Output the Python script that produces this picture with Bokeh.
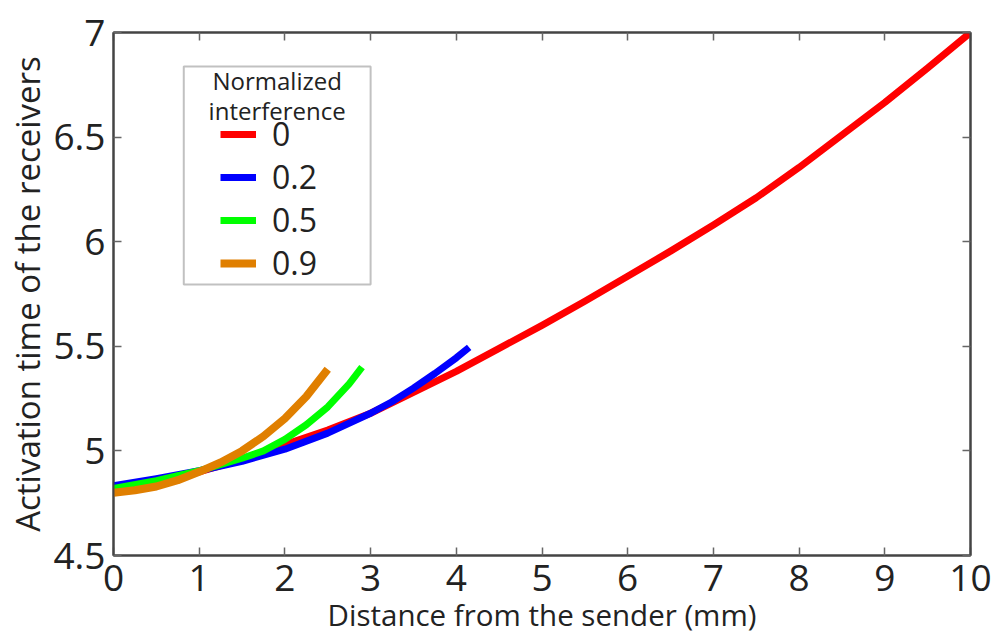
from bokeh.plotting import figure
from bokeh.models import (Range1d, LinearAxis, FixedTicker, Legend, LegendItem,
                          BoxAnnotation, Label, CustomLabelingPolicy)
from bokeh.embed import file_html
from bokeh.resources import INLINE

# ---- data ----
x_red = [0, 0.5, 1, 1.5, 2, 2.5, 3, 3.5, 4, 4.5, 5, 5.5, 6, 6.5, 7, 7.5, 8, 8.5, 9, 9.5, 10]
y_red = [4.81, 4.85, 4.90, 4.96, 5.03, 5.10, 5.18, 5.28, 5.38, 5.49, 5.60, 5.715, 5.835,
         5.955, 6.08, 6.21, 6.355, 6.51, 6.665, 6.83, 7.0]

x_blue = [0, 0.5, 1, 1.5, 2, 2.5, 3, 3.25, 3.5, 3.75, 4, 4.15]
y_blue = [4.833, 4.867, 4.905, 4.95, 5.008, 5.085, 5.18, 5.235, 5.30, 5.37, 5.445, 5.495]

x_green = [0, 0.5, 1, 1.5, 1.75, 2, 2.25, 2.5, 2.75, 2.9]
y_green = [4.82, 4.858, 4.905, 4.965, 5.00, 5.055, 5.125, 5.21, 5.32, 5.40]

x_orange = [0, 0.25, 0.5, 0.75, 1, 1.25, 1.5, 1.75, 2, 2.25, 2.5]
y_orange = [4.80, 4.812, 4.83, 4.86, 4.90, 4.945, 5.00, 5.07, 5.155, 5.26, 5.39]

series_names = ["0", "0.2", "0.5", "0.9"]
series_colors = ["#ff0000", "#0000ff", "#00ff00", "#e07f00"]
legend_title = ["Normalized", "interference"]

x_ticks = [0, 1, 2, 3, 4, 5, 6, 7, 8, 9, 10]
y_ticks = [4.5, 5.0, 5.5, 6.0, 6.5, 7.0]
y_tick_labels = ["4.5", "5", "5.5", "6", "6.5", "7"]
x_title = "Distance from the sender (mm)"
y_title = "Activation time of the receivers"

FONT = "Open Sans"
TXT = "#222222"
AX = "#444444"

p = figure(width=994, height=638, output_backend="svg", toolbar_location=None,
           x_range=Range1d(0, 10), y_range=Range1d(4.5, 7.0),
           min_border_left=113, min_border_right=24, min_border_top=32, min_border_bottom=83)
p.grid.visible = False
p.outline_line_color = AX
p.outline_line_width = 2
p.background_fill_color = "white"
p.border_fill_color = "white"

xs = [x_red, x_blue, x_green, x_orange]
ys = [y_red, y_blue, y_green, y_orange]
widths = [7, 7, 7, 8]
renderers = []
for xx, yy, c, w in zip(xs, ys, series_colors, widths):
    r = p.line(xx, yy, line_color=c, line_width=w, line_cap="butt", line_join="round")
    renderers.append(r)

no_labels = CustomLabelingPolicy(code="return new indices.constructor(indices.size, 0)")

def style_axis(ax, labels=True):
    ax.axis_line_color = AX
    ax.axis_line_width = 2
    ax.major_tick_line_color = "#666666"
    ax.major_tick_line_width = 1.5
    ax.major_tick_in = 8
    ax.major_tick_out = 0
    ax.minor_tick_line_color = None
    if labels:
        ax.major_label_text_font = FONT
        ax.major_label_text_font_size = "37px"
        ax.major_label_text_color = TXT
        ax.axis_label_text_font = FONT
        ax.axis_label_text_font_style = "normal"
        ax.axis_label_text_color = TXT
    else:
        ax.major_label_policy = no_labels
        ax.major_label_standoff = 0

xa = p.xaxis[0]
xa.ticker = FixedTicker(ticks=x_ticks)
style_axis(xa)
xa.axis_label = x_title
xa.axis_label_text_font_size = "29.5px"
xa.major_label_standoff = 9
xa.axis_label_standoff = 0

ya = p.yaxis[0]
ya.ticker = FixedTicker(ticks=y_ticks)
ya.major_label_overrides = {t: l for t, l in zip(y_ticks, y_tick_labels)}
style_axis(ya)
ya.axis_label = y_title
ya.axis_label_text_font_size = "33px"
ya.major_label_standoff = 8
ya.axis_label_standoff = 0

top = LinearAxis(ticker=FixedTicker(ticks=x_ticks))
style_axis(top, labels=False)
p.add_layout(top, "above")
right = LinearAxis(ticker=FixedTicker(ticks=y_ticks))
style_axis(right, labels=False)
p.add_layout(right, "right")

# legend frame and centred two-line title
p.add_layout(BoxAnnotation(left=0.82, right=3.0, bottom=5.795, top=6.837,
                           fill_color="white", fill_alpha=1.0,
                           line_color="#333333", line_width=2))
for txt, ty in zip(legend_title, [6.77, 6.625]):
    p.add_layout(Label(x=1.91, y=ty, text=txt, text_align="center", text_baseline="middle",
                       text_font=FONT, text_font_size="24px", text_color=TXT))

legend = Legend(items=[LegendItem(label=n, renderers=[r]) for n, r in zip(series_names, renderers)],
                location=(107, 271),
                label_text_font=FONT, label_text_font_size="32px", label_text_color=TXT,
                glyph_width=36, glyph_height=30, label_height=30, label_standoff=16,
                spacing=-2, padding=0, margin=0,
                border_line_color=None, background_fill_alpha=0.0)
p.add_layout(legend, "center")

open("out.html", "w").write(file_html(p, INLINE))
